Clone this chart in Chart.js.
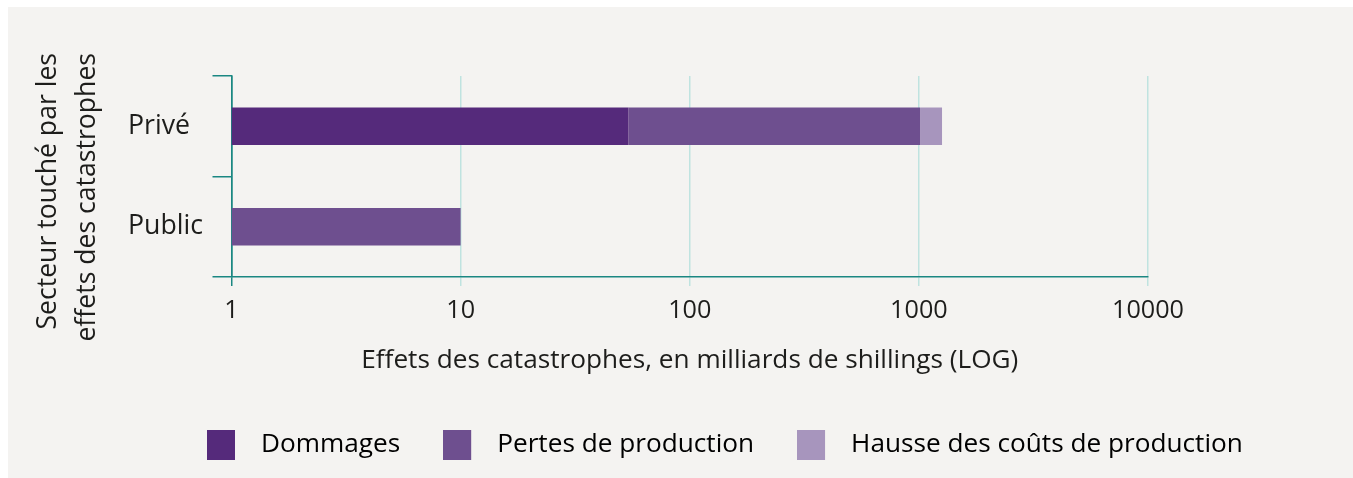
<!DOCTYPE html>
<html>
<head>
<meta charset="utf-8">
<script src="https://cdn.jsdelivr.net/npm/chart.js@4/dist/chart.umd.min.js"></script>
<style>
html, body { margin: 0; padding: 0; background: #ffffff; }
#panel { position: absolute; left: 8px; top: 7px; width: 1345px; height: 471px; background: #f4f3f1; }
#wrap { position: relative; width: 1345px; height: 471px; }
</style>
</head>
<body>
<div id="panel"><div id="wrap"><canvas id="c"></canvas></div></div>
<script>
// ---- data ----
const categories = ['Privé', 'Public'];
const seriesNames = ['Dommages', 'Pertes de production', 'Hausse des coûts de production'];
const dommages = [54, null];
const pertesProduction = [958, 10];
const hausseCouts = [250, null];
const xTickValues = [1, 10, 100, 1000, 10000];
const xTickLabels = ['1', '10', '100', '1000', '10000'];
const xTitle = 'Effets des catastrophes, en milliards de shillings (LOG)';
const yTitleLines = ['Secteur touché par les', 'effets des catastrophes'];

// ---- style ----
const seriesColors = ['#552a7b', '#6e4f8f', '#a795bd'];
const FAMILY = '"Open Sans", "Noto Sans", sans-serif';
const TEXT = '#1d1d1b';
const AXIS = '#1a8782';
const GRID = '#bfe3e0';

const mctx = document.createElement('canvas').getContext('2d');
function widthAt(text, size) { mctx.font = size + 'px ' + FAMILY; return mctx.measureText(text).width; }
function fitSize(texts, target) {
  const w = texts.reduce((s, t) => s + widthAt(t, 100), 0);
  return Math.round(1000 * target / w) / 10;
}
const tickSize = fitSize(['10000'], 72);
const catSize = fitSize(['Public'], 75);
const titleSize = fitSize([xTitle], 657);
const legendSize = fitSize(seriesNames, 787.5);
const yTitleSize = fitSize([yTitleLines[0]], 277);

// layout targets (canvas coordinates)
const AREA_LEFT = 223.5, AREA_RIGHT = 1140, AREA_TOP = 69, AREA_BOTTOM = 270;
const CAT_LABEL_LEFT = 120;
const CW = 1345, CH = 471;
const LEG_PAD = 43, LEG_BOXW = 28, LEG_BOXH = 30, LEG_GAP = 26, LEG_FIRST = 199, LEG_CENTER_Y = 438;
const legTextW = seriesNames.map(s => widthAt(s, legendSize));
const legW = legTextW.reduce((s, t) => s + LEG_BOXW + LEG_GAP + t + LEG_PAD, 0);
const PAD_LEFT = 2 * LEG_FIRST - (CW + LEG_PAD - legW);
const pointW = LEG_BOXW + LEG_GAP - legendSize / 2;
const X_AXIS_H = LEG_CENTER_Y - LEG_PAD - legendSize / 2 - AREA_BOTTOM;
const LEG_H = legendSize + LEG_PAD + 10;
const PAD_BOTTOM = CH - (AREA_BOTTOM + X_AXIS_H) - LEG_H;
const xTickPad = 303.4 - AREA_BOTTOM - 9 - 0.6 * tickSize;
const xTitlePadB = AREA_BOTTOM + X_AXIS_H - 353.5 - 0.6 * titleSize;

function swatch(color) {
  const c = document.createElement('canvas');
  c.width = Math.round(pointW);
  c.height = LEG_BOXH;
  const g = c.getContext('2d');
  g.fillStyle = color;
  g.fillRect(0, 0, LEG_BOXW, LEG_BOXH);
  return c;
}

Chart.defaults.font.family = FAMILY;
Chart.defaults.color = TEXT;

const yTitlePlugin = {
  id: 'yTitle',
  afterDraw(chart) {
    const ctx = chart.ctx;
    ctx.save();
    ctx.font = yTitleSize + 'px ' + FAMILY;
    ctx.fillStyle = TEXT;
    ctx.textAlign = 'right';
    ctx.textBaseline = 'alphabetic';
    yTitleLines.forEach((line, i) => {
      ctx.save();
      ctx.translate(48 + i * 38.5, 46);
      ctx.rotate(-Math.PI / 2);
      ctx.fillText(line, 0, 0);
      ctx.restore();
    });
    ctx.restore();
  }
};

const seriesData = [dommages, pertesProduction, hausseCouts];

new Chart(document.getElementById('c'), {
  type: 'bar',
  data: {
    labels: categories,
    datasets: seriesNames.map((name, i) => ({
      label: name,
      data: seriesData[i],
      backgroundColor: seriesColors[i],
      borderWidth: 0,
      barPercentage: 0.375,
      categoryPercentage: 1
    }))
  },
  options: {
    indexAxis: 'y',
    responsive: true,
    maintainAspectRatio: false,
    animation: false,
    layout: { padding: { left: PAD_LEFT, right: 0, top: AREA_TOP, bottom: PAD_BOTTOM } },
    plugins: {
      tooltip: { enabled: false },
      legend: {
        position: 'bottom',
        align: 'center',
        labels: {
          usePointStyle: true,
          pointStyleWidth: pointW,
          padding: LEG_PAD,
          color: TEXT,
          font: { size: legendSize, family: FAMILY },
          generateLabels(chart) {
            return chart.data.datasets.map((ds, i) => ({
              text: ds.label,
              fillStyle: ds.backgroundColor,
              strokeStyle: ds.backgroundColor,
              lineWidth: 0,
              pointStyle: swatch(ds.backgroundColor),
              hidden: false,
              datasetIndex: i
            }));
          }
        }
      }
    },
    scales: {
      x: {
        type: 'logarithmic',
        position: 'bottom',
        stacked: true,
        min: 1,
        max: 10000,
        afterBuildTicks(scale) { scale.ticks = xTickValues.map(v => ({ value: v })); },
        afterFit(scale) { scale.height = X_AXIS_H; },
        ticks: {
          autoSkip: false,
          maxRotation: 0,
          padding: xTickPad,
          color: TEXT,
          font: { size: tickSize, lineHeight: 1.2 },
          callback(value) { const k = xTickValues.indexOf(value); return k >= 0 ? xTickLabels[k] : ''; }
        },
        grid: {
          color: (c) => (c.index === 0 ? AXIS : GRID),
          lineWidth: 1.5,
          tickLength: 9,
          drawTicks: true
        },
        border: { display: true, color: AXIS, width: 1.5 },
        title: {
          display: true,
          text: xTitle,
          color: TEXT,
          font: { size: titleSize, lineHeight: 1.2 },
          padding: { top: 0, bottom: xTitlePadB }
        }
      },
      y: {
        type: 'category',
        position: 'left',
        stacked: true,
        weight: 0,
        afterFit(scale) { scale.width = AREA_LEFT - CAT_LABEL_LEFT; },
        ticks: {
          crossAlign: 'far',
          padding: 8,
          color: TEXT,
          font: { size: catSize }
        },
        grid: {
          offset: true,
          drawOnChartArea: false,
          drawTicks: true,
          tickLength: 19,
          color: AXIS,
          lineWidth: 1.5
        },
        border: { display: true, color: AXIS, width: 1.5 }
      },
      yLeftSpace: {
        type: 'category',
        position: 'left',
        weight: 5,
        display: true,
        afterFit(scale) { scale.width = CAT_LABEL_LEFT - PAD_LEFT; },
        ticks: { display: false },
        grid: { display: false },
        border: { display: false }
      },
      yRight: {
        type: 'category',
        position: 'right',
        display: true,
        afterFit(scale) { scale.width = CW - AREA_RIGHT; },
        ticks: { display: false },
        grid: { display: false },
        border: { display: false }
      }
    }
  },
  plugins: [yTitlePlugin]
});
</script>
</body>
</html>
